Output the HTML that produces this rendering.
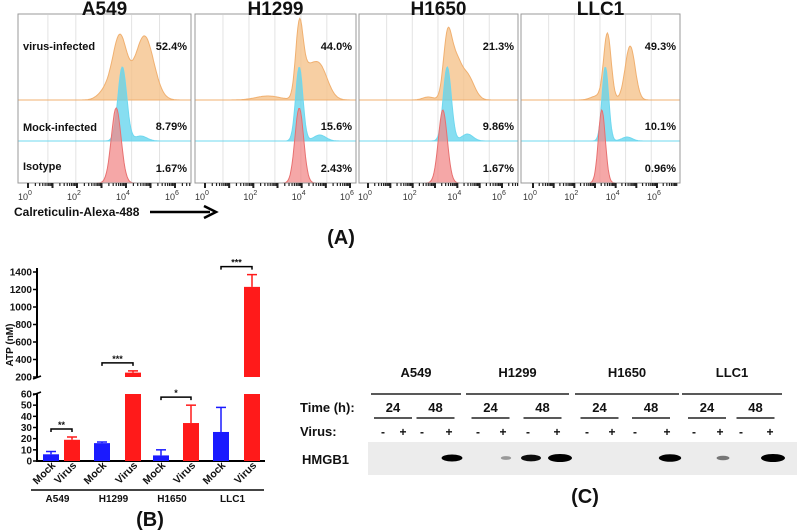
<!DOCTYPE html>
<html><head><meta charset="utf-8"><style>
body{margin:0;background:#fff;}
svg{display:block;font-family:"Liberation Sans",Arial,sans-serif;}
</style></head><body>
<svg id="fig" width="798" height="530" viewBox="0 0 798 530" xmlns="http://www.w3.org/2000/svg">
<g id="pa"></g>
<g id="pb"></g>
<g id="pc"></g>
</svg>
<script>
const NS="http://www.w3.org/2000/svg";
function mk(p,t,a,txt){const e=document.createElementNS(NS,t);for(const k in a)e.setAttribute(k,a[k]);if(txt!==undefined)e.textContent=txt;p.appendChild(e);return e;}

// ---------- Panel A data ----------
const cellLines=["A549","H1299","H1650","LLC1"];
const virusPct=["52.4%","44.0%","21.3%","49.3%"];
const mockPct=["8.79%","15.6%","9.86%","10.1%"];
const isoPct=["1.67%","2.43%","1.67%","0.96%"];
// peaks: [center(log10), height(px), sigma(log10)]
const virusPeaks=[
 [[3.75,62,0.28],[4.75,64,0.38],[3.2,10,0.3]],
 [[3.9,66,0.15],[4.7,36,0.35],[4.15,20,0.25],[2.6,4,0.5]],
 [[3.55,56,0.18],[3.9,38,0.25],[4.45,24,0.3],[2.7,3,0.25]],
 [[3.6,66,0.18],[4.7,54,0.24],[3.1,4,0.3]]
];
const mockPeaks=[
 [[3.85,74,0.18],[4.6,5,0.25]],
 [[3.9,74,0.15],[4.75,6,0.25]],
 [[3.55,74,0.18],[4.45,7,0.25]],
 [[3.5,74,0.16],[4.55,4,0.25]]
];
const isoPeaks=[
 [[3.6,75,0.2]],
 [[3.9,75,0.18]],
 [[3.35,73,0.2]],
 [[3.33,73,0.17]]
];
const boxes=[[18,191,28,175],[195,356,205,350],[359,518,368,502],[521,680,533,657]];
const pa=document.getElementById('pa');
function dens(peaks,l){let s=0;for(const p of peaks)s+=p[1]*Math.exp(-0.5*Math.pow((l-p[0])/p[2],2));return s;}
boxes.forEach((b,i)=>{
  const [x0,x1,a0,a6]=b;const dec=(a6-a0)/6;const X=l=>a0+l*dec;
  const g=mk(pa,'g',{});
  
  
  const t=mk(pa,'text',{x:(x0+x1)/2,y:15,'text-anchor':'middle','font-size':19,'font-weight':'bold',fill:'#111'},cellLines[i]);
  
  
  for(let k=1;k<6;k++){const gx=x0+k*(x1-x0)/6.2+2;mk(g,'line',{x1:gx,y1:15,x2:gx,y2:183,stroke:'#e3e3e3','stroke-width':1});}
  const rows=[[virusPeaks[i],100,'#f5c38c','#f0b070',0.8],[mockPeaks[i],141,'#5fd3ec','#6fd8ef',0.75],[isoPeaks[i],183,'#f28a8a','#e87070',0.75]];
  const names=['virus-curve','mock-curve','isotype-curve'];
  rows.forEach((r,j)=>{
    let d='M'+x0+','+r[1];
    for(let l=-0.4;l<=6.3;l+=0.04){const x=X(l);if(x<x0||x>x1)continue;d+=' L'+x.toFixed(1)+','+(r[1]-dens(r[0],l)).toFixed(1);}
    d+=' L'+x1+','+r[1]+' Z';
    const p=mk(g,'path',{d:d,fill:r[2],'fill-opacity':r[4],stroke:r[3],'stroke-width':1});
    
    
  });
  mk(g,'rect',{x:x0,y:14,width:x1-x0,height:169,fill:'none',stroke:'#999','stroke-width':1});
  for(let l=0;l<=6.2;l+=1){for(let m=1;m<10;m++){const x=X(l+Math.log10(m));if(x>x1)break;mk(g,'line',{x1:x,y1:183,x2:x,y2:m==1?188:186,stroke:'#222','stroke-width':m==1?2:1.2});}}
  for(let l=0;l<=6;l+=2){const tt=mk(g,'text',{x:X(l)-3,y:200,'text-anchor':'middle','font-size':9,fill:'#333'},'10');mk(tt,'tspan',{dy:-5,'font-size':7},String(l));}
  const pcts=[[virusPct[i],50],[mockPct[i],130],[isoPct[i],172]];
  pcts.forEach((p,j)=>{const e=mk(g,'text',{x:x1-4,y:p[1],'text-anchor':'end','font-size':11,'font-weight':'bold',fill:'#111'},p[0]);});
  if(i==0){[['virus-infected',50],['Mock-infected',131],['Isotype',170]].forEach(p=>{const e=mk(g,'text',{x:23,y:p[1],'font-size':11,'font-weight':'bold',fill:'#111'},p[0]);});}
});
const xt=mk(pa,'text',{x:14,y:216,'font-size':12,'font-weight':'bold',fill:'#111'},'Calreticulin-Alexa-488');

mk(pa,'line',{x1:150,y1:212,x2:210,y2:212,stroke:'#000','stroke-width':2.5});
mk(pa,'path',{d:'M204,206 L216,212 L204,218',fill:'none',stroke:'#000','stroke-width':2.5});
const la=mk(pa,'text',{x:341,y:244,'text-anchor':'middle','font-size':20,'font-weight':'bold',fill:'#111'},'(A)');


// ---------- Panel B data ----------
const groups=["A549","H1299","H1650","LLC1"];
const mockVals=[6,16,5,26];
const mockErr=[2.5,1,5,22];
const virusVals=[19,250,34,1230];
const virusErr=[2.5,20,16,140];
const sigLabels=["**","***","*","***"];
const lowTicks=[0,10,20,30,40,50,60];
const highTicks=[200,400,600,800,1000,1200,1400];
const pb=document.getElementById('pb');
function yB(v){return v<=60?461-v*67/60:377-(v-200)*105/1200;}
const axX=37;
mk(pb,'line',{x1:axX,y1:268,x2:axX,y2:377,stroke:'#000','stroke-width':2});
mk(pb,'line',{x1:axX,y1:394,x2:axX,y2:462,stroke:'#000','stroke-width':2});
mk(pb,'line',{x1:axX,y1:461,x2:265,y2:461,stroke:'#000','stroke-width':2});
mk(pb,'line',{x1:axX-4,y1:379,x2:axX+4,y2:376,stroke:'#000','stroke-width':1.5});
mk(pb,'line',{x1:axX-4,y1:395,x2:axX+4,y2:392,stroke:'#000','stroke-width':1.5});
lowTicks.concat(highTicks).forEach(v=>{const y=yB(v);mk(pb,'line',{x1:axX-4,y1:y,x2:axX,y2:y,stroke:'#000','stroke-width':1.5});
 const t=mk(pb,'text',{x:axX-5,y:y+3.5,'text-anchor':'end','font-size':10,'font-weight':'bold',fill:'#111'},String(v));});
const yt=mk(pb,'text',{x:0,y:0,transform:'translate(13,345) rotate(-90)','text-anchor':'middle','font-size':10,'font-weight':'bold',fill:'#111'},'ATP (nM)');

const mockX=[43,94,153,213];const virusX=[64,125,183,244];const bw=16;
function bar(x,v,e,col,name){
  const g=mk(pb,'g',{});
  if(v<=60){mk(g,'rect',{x:x,y:yB(v),width:bw,height:461-yB(v),fill:col});}
  else{mk(g,'rect',{x:x,y:yB(60),width:bw,height:461-yB(60),fill:col});mk(g,'rect',{x:x,y:yB(v),width:bw,height:yB(200)-yB(v),fill:col});}
  const top=yB(v+e),cx=x+bw/2;
  mk(g,'line',{x1:cx,y1:yB(v),x2:cx,y2:top,stroke:col,'stroke-width':1.5});
  mk(g,'line',{x1:cx-5,y1:top,x2:cx+5,y2:top,stroke:col,'stroke-width':1.5});
}
groups.forEach((gname,i)=>{
  const mx=mockX[i],vx=virusX[i];
  bar(mx,mockVals[i],mockErr[i],'#1a1aff','bar-mock-'+gname.toLowerCase());
  bar(vx,virusVals[i],virusErr[i],'#ff1a1a','bar-virus-'+gname.toLowerCase());
  const by=Math.min(yB(mockVals[i]+mockErr[i]),yB(virusVals[i]+virusErr[i]))-8;
  const c1=mx+bw/2,c2=vx+bw/2;
  mk(pb,'path',{d:`M${c1},${by+3} L${c1},${by} L${c2},${by} L${c2},${by+3}`,fill:'none',stroke:'#000','stroke-width':1.5});
  const s=mk(pb,'text',{x:(c1+c2)/2,y:by-1,'text-anchor':'middle','font-size':9,'font-weight':'bold',fill:'#111'},sigLabels[i]);
  
  [[c1,'Mock'],[c2,'Virus']].forEach(p=>{const t=mk(pb,'text',{x:0,y:0,transform:`translate(${p[0]+5},466) rotate(-45)`,'text-anchor':'end','font-size':10.5,'font-weight':'bold',fill:'#111'},p[1]);});
  mk(pb,'line',{x1:mx-12,y1:490,x2:vx+bw+4,y2:490,stroke:'#444','stroke-width':2});
  const gl=mk(pb,'text',{x:(mx-12+vx+bw+4)/2,y:502,'text-anchor':'middle','font-size':10,'font-weight':'bold',fill:'#111'},gname);
  
});
const lb=mk(pb,'text',{x:150,y:526,'text-anchor':'middle','font-size':20,'font-weight':'bold',fill:'#111'},'(B)');


// ---------- Panel C data ----------
const blotLines=["A549","H1299","H1650","LLC1"];
const laneX=[383,403,422,449,478,503,528,557,587,612,635,667,694,720,741,770];
const laneSign=["-","+","-","+","-","+","-","+","-","+","-","+","-","+","-","+"];
const bandIntensity=[0,0,0,0.8,0,0.15,0.75,1,0,0,0,0.9,0,0.3,0,1];
const pc=document.getElementById('pc');
mk(pc,'rect',{x:368,y:442,width:429,height:33,fill:'#ececec'});
const lab=(x,y,t,s,anch,name)=>{const e=mk(pc,'text',{x:x,y:y,'text-anchor':anch||'middle','font-size':s,'font-weight':'bold',fill:'#111'},t);return e;};
blotLines.forEach((n,i)=>{const a=laneX[i*4]-12,b=laneX[i*4+3]+12;lab((a+b)/2,377,n,13,'middle','blot-cell-line');mk(pc,'line',{x1:a,y1:394,x2:b,y2:394,stroke:'#222','stroke-width':1.5});
 [0,1].forEach(k=>{const c=(laneX[i*4+k*2]+laneX[i*4+k*2+1])/2;lab(c,412,k?'48':'24',13,'middle','time-label');mk(pc,'line',{x1:c-19,y1:418,x2:c+19,y2:418,stroke:'#222','stroke-width':1.5});});});
lab(300,412,'Time (h):',13,'start','time-row-label');
lab(300,436,'Virus:',13,'start','virus-row-label');
lab(302,464,'HMGB1',13,'start','hmgb1-label');
laneX.forEach((x,i)=>{lab(x,436,laneSign[i],12,'middle','virus-sign');
 if(bandIntensity[i]>0){const v=bandIntensity[i];const e=mk(pc,'ellipse',{cx:x+3,cy:458,rx:4+8*v,ry:1.5+2.5*v,fill:'#000','fill-opacity':Math.min(1,0.2+v)});}});
lab(585,503,'(C)',20,'middle','panel-c-label');
</script>
</body></html>
